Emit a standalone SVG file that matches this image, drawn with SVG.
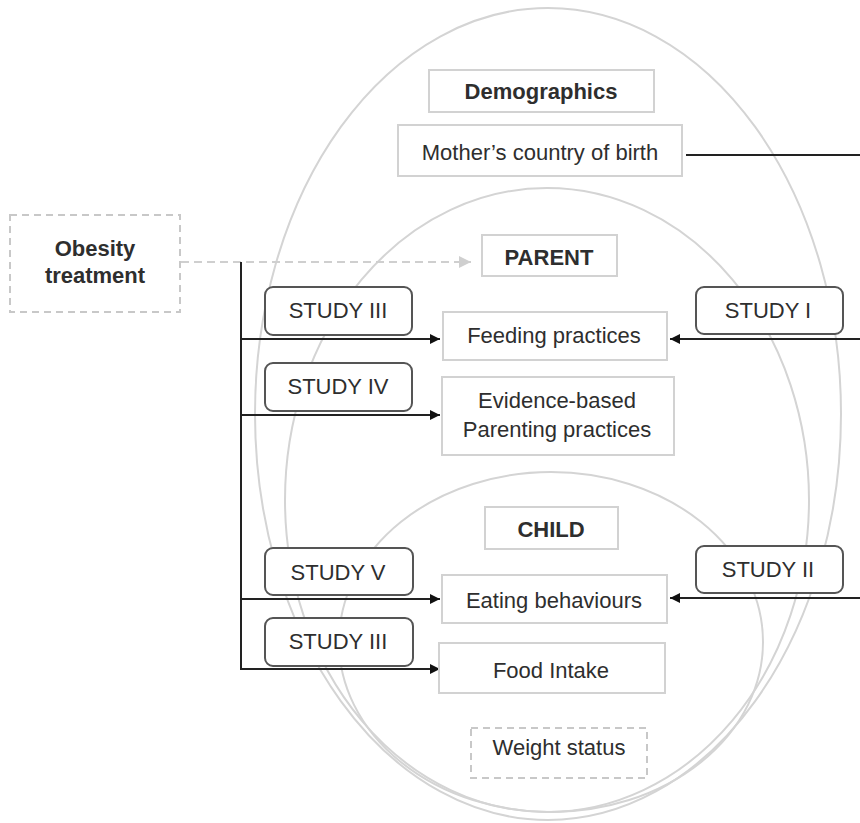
<svg xmlns="http://www.w3.org/2000/svg" width="860" height="823" viewBox="0 0 860 823">
<style>
text{font-family:"Liberation Sans",Arial,sans-serif;font-size:22px;fill:#2e2e2e;text-anchor:middle}
.b{font-weight:bold}
.box{fill:#fff;stroke:#d2d2d2;stroke-width:2}
.dbox{fill:#fff;stroke:#c8c8c8;stroke-width:2;stroke-dasharray:7 5}
.study{fill:#fff;stroke:#555;stroke-width:2}
.ell{fill:none;stroke:#d4d4d4;stroke-width:2}
.con{fill:none;stroke:#222;stroke-width:2}
</style>
<defs>
<marker id="ah" viewBox="0 0 10 10" refX="10" refY="5" markerWidth="10" markerHeight="10" markerUnits="userSpaceOnUse" orient="auto"><path d="M0,0L10,5L0,10z" fill="#111"/></marker>
<marker id="ag" viewBox="0 0 10 10" refX="10" refY="5" markerWidth="12" markerHeight="12" markerUnits="userSpaceOnUse" orient="auto"><path d="M0,0L10,5L0,10z" fill="#cfcfcf"/></marker>
</defs>
<rect width="860" height="823" fill="#fff"/>
<g id="ellipses">
<ellipse class="ell" cx="548" cy="414" rx="293" ry="406"/>
<ellipse class="ell" cx="547" cy="500" rx="262" ry="312"/>
<ellipse class="ell" cx="551" cy="642" rx="212" ry="170"/>
</g>
<g id="connectors">
<path class="con" d="M686,155H860"/>
<path d="M181,262H471" fill="none" stroke="#cfcfcf" stroke-width="2" stroke-dasharray="8 5" marker-end="url(#ag)"/>
<path class="con" d="M241,262V670"/>
<path class="con" d="M241,339H440" marker-end="url(#ah)"/>
<path class="con" d="M241,415H440" marker-end="url(#ah)"/>
<path class="con" d="M241,599H440" marker-end="url(#ah)"/>
<path class="con" d="M241,669H440" marker-end="url(#ah)"/>
<path class="con" d="M860,339H670" marker-end="url(#ah)"/>
<path class="con" d="M860,598H670" marker-end="url(#ah)"/>
</g>
<g id="demographics"><rect class="box" x="429" y="70" width="225" height="42"/><text class="b" x="541" y="99">Demographics</text></g>
<g id="mother"><rect class="box" x="398" y="125" width="284" height="51"/><text x="540" y="160">Mother’s country of birth</text></g>
<g id="obesity"><rect class="dbox" x="10" y="215" width="170" height="97"/><text class="b" x="95" y="256">Obesity</text><text class="b" x="95" y="283">treatment</text></g>
<g id="parent"><rect class="box" x="482" y="235" width="135" height="41"/><text class="b" x="549" y="265">PARENT</text></g>
<g id="study3a"><rect class="study" x="265" y="287" width="147" height="48" rx="8"/><text x="338" y="318">STUDY III</text></g>
<g id="study1"><rect class="study" x="696" y="287" width="147" height="47" rx="8"/><text x="768" y="318">STUDY I</text></g>
<g id="feeding"><rect class="box" x="443" y="312" width="224" height="48"/><text x="554" y="343">Feeding practices</text></g>
<g id="study4"><rect class="study" x="265" y="363" width="147" height="48" rx="8"/><text x="338" y="394">STUDY IV</text></g>
<g id="evidence"><rect class="box" x="442" y="377" width="232" height="78"/><text x="557" y="408">Evidence-based</text><text x="557" y="437">Parenting practices</text></g>
<g id="child"><rect class="box" x="485" y="507" width="133" height="42"/><text class="b" x="551" y="537">CHILD</text></g>
<g id="study5"><rect class="study" x="265" y="548" width="148" height="47" rx="8"/><text x="338" y="580">STUDY V</text></g>
<g id="study2"><rect class="study" x="696" y="546" width="147" height="47" rx="8"/><text x="768" y="577">STUDY II</text></g>
<g id="eating"><rect class="box" x="442" y="575" width="225" height="48"/><text x="554" y="608">Eating behaviours</text></g>
<g id="study3b"><rect class="study" x="265" y="618" width="148" height="48" rx="8"/><text x="338" y="649">STUDY III</text></g>
<g id="food"><rect class="box" x="439" y="643" width="226" height="50"/><text x="551" y="678">Food Intake</text></g>
<g id="weight"><rect class="dbox" x="471" y="728" width="176" height="50"/><text x="559" y="755">Weight status</text></g>
</svg>
